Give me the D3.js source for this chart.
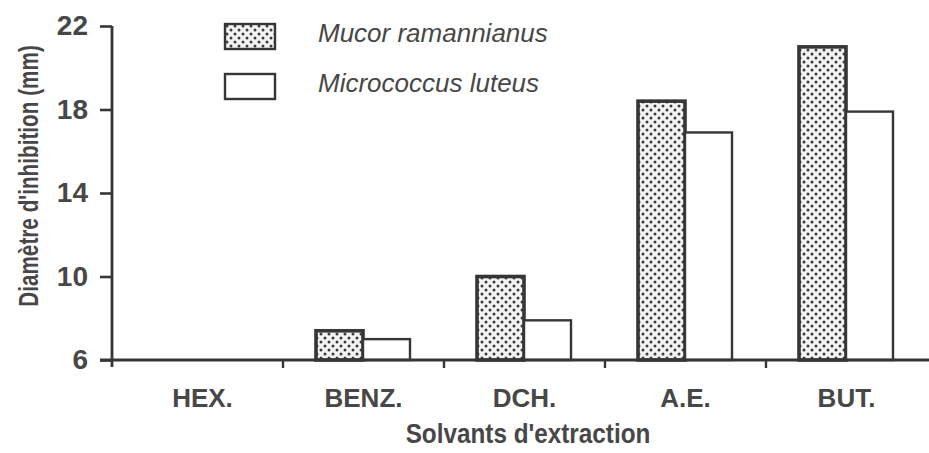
<!DOCTYPE html>
<html>
<head>
<meta charset="utf-8">
<script src="https://cdn.jsdelivr.net/npm/d3@7"></script>
<style>
  html, body { margin: 0; padding: 0; background: #fff; }
  svg { display: block; }
</style>
</head>
<body>
<script>
// Inhibition zone diameters (mm) by extraction solvent
const categories = ["HEX.", "BENZ.", "DCH.", "A.E.", "BUT."];
const seriesNames = ["Mucor ramannianus", "Micrococcus luteus"];
const mucorValues = [null, 7.4, 10, 18.4, 21];
const micrococcusValues = [null, 7, 7.9, 16.9, 17.9];
const yTicks = [6, 10, 14, 18, 22];

const W = 929, H = 453;
const ink = "#363636";
const textInk = "#474747";
const font = "'Liberation Sans', Arial, sans-serif";

const svg = d3.select("body").append("svg")
  .attr("width", W).attr("height", H);

// Dotted fill for the first series
const defs = svg.append("defs");
const pat = defs.append("pattern")
  .attr("id", "dots")
  .attr("patternUnits", "userSpaceOnUse")
  .attr("width", 8).attr("height", 8);
pat.append("rect").attr("width", 8).attr("height", 8).attr("fill", "#f3f3f3");
pat.append("circle").attr("cx", 2).attr("cy", 2).attr("r", 1.5).attr("fill", "#3c3c3c");
pat.append("circle").attr("cx", 6).attr("cy", 6).attr("r", 1.5).attr("fill", "#3c3c3c");

const y = d3.scaleLinear().domain([6, 22]).range([360, 26]);
const x = d3.scaleBand().domain(categories).range([122, 927]).padding(0);
const x1 = d3.scaleBand().domain(seriesNames).range([33, 127]).padding(0);

const rows = categories.map((c, i) => ({
  cat: c,
  vals: [
    { name: seriesNames[0], v: mucorValues[i] },
    { name: seriesNames[1], v: micrococcusValues[i] }
  ]
}));

// Bars
const groups = svg.append("g").selectAll("g")
  .data(rows).join("g")
  .attr("transform", d => `translate(${x(d.cat)},0)`);

groups.selectAll("rect")
  .data(d => d.vals.filter(s => s.v != null && s.v > y.domain()[0]))
  .join("rect")
  .attr("x", d => x1(d.name))
  .attr("width", x1.bandwidth())
  .attr("y", d => y(d.v))
  .attr("height", d => y(y.domain()[0]) - y(d.v))
  .attr("fill", d => d.name === seriesNames[0] ? "url(#dots)" : "#fff")
  .attr("stroke", ink)
  .attr("stroke-width", d => d.name === seriesNames[0] ? 3.6 : 2.4);

// Y axis
const yAxis = d3.axisLeft(y).tickValues(yTicks).tickSize(12).tickPadding(12);
const gy = svg.append("g").attr("transform", "translate(112,0)").call(yAxis);
gy.select(".domain").attr("stroke", ink).attr("stroke-width", 2.8)
  .attr("d", `M0,${y(22)}V${y(6) + 7}`);
gy.selectAll(".tick line").attr("stroke", ink).attr("stroke-width", 2.6);
gy.selectAll(".tick text")
  .attr("fill", textInk)
  .style("font-family", font)
  .style("font-weight", "bold")
  .style("font-size", "28px");

// X axis: ticks sit at the category boundaries
const boundaries = categories.slice(1).map(c => x(c));
const gx = svg.append("g").attr("transform", `translate(0,${y(6)})`);
gx.append("line")
  .attr("x1", 100).attr("x2", W)
  .attr("stroke", ink).attr("stroke-width", 2.8);
gx.selectAll("line.tk").data(boundaries).join("line")
  .attr("class", "tk")
  .attr("x1", d => d).attr("x2", d => d)
  .attr("y1", 0).attr("y2", 8)
  .attr("stroke", ink).attr("stroke-width", 2.4);
gx.selectAll("text").data(categories).join("text")
  .attr("x", d => x(d) + x.bandwidth() / 2)
  .attr("y", 47)
  .attr("text-anchor", "middle")
  .attr("fill", textInk)
  .style("font-family", font)
  .style("font-weight", "bold")
  .style("font-size", "26px")
  .text(d => d);

// Axis titles (narrowed horizontally)
svg.append("text")
  .attr("transform", "translate(528,443) scale(0.9,1)")
  .attr("text-anchor", "middle")
  .attr("fill", textInk)
  .style("font-family", font)
  .style("font-weight", "bold")
  .style("font-size", "27px")
  .text("Solvants d'extraction");

svg.append("text")
  .attr("transform", "translate(38,176) rotate(-90) scale(0.74,1)")
  .attr("text-anchor", "middle")
  .attr("fill", textInk)
  .style("font-family", font)
  .style("font-weight", "bold")
  .style("font-size", "28px")
  .text("Diamètre d'inhibition (mm)");

// Legend
const legend = svg.append("g").attr("transform", "translate(225,24)");
const items = legend.selectAll("g").data(seriesNames).join("g")
  .attr("transform", (d, i) => `translate(0,${i * 50})`);
items.append("rect")
  .attr("width", 50).attr("height", 25)
  .attr("fill", (d, i) => i === 0 ? "url(#dots)" : "#fff")
  .attr("stroke", ink)
  .attr("stroke-width", 2.4);
items.append("text")
  .attr("x", 93).attr("y", 18)
  .attr("fill", textInk)
  .style("font-family", font)
  .style("font-style", "italic")
  .style("font-size", "26px")
  .text(d => d);
</script>
</body>
</html>
